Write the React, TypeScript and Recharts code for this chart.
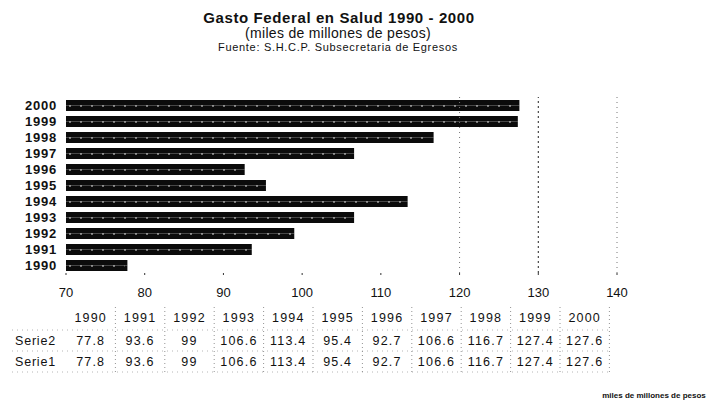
import React from 'react';
import { BarChart, Bar, XAxis, YAxis, ReferenceLine } from 'recharts';

const years = ['1990', '1991', '1992', '1993', '1994', '1995', '1996', '1997', '1998', '1999', '2000'];
const serie2 = [77.8, 93.6, 99, 106.6, 113.4, 95.4, 92.7, 106.6, 116.7, 127.4, 127.6];
const serie1 = [77.8, 93.6, 99, 106.6, 113.4, 95.4, 92.7, 106.6, 116.7, 127.4, 127.6];
const xTicks = [70, 80, 90, 100, 110, 120, 130, 140];
const gridValues = [120, 130, 140];

const data = years.map((y, i) => ({ year: y, Serie2: serie2[i], Serie1: serie1[i] }));

const FONT = '"Liberation Sans", Arial, sans-serif';
const INK = '#111';

const TABLE_LEFT = 66;
const COL_W = 49.4;
const ROW_Y = [318, 341, 362];

const fmt = (v: number) => (Number.isInteger(v) ? String(v) : v.toFixed(1));

const BarShape = (props: any) => {
  const { x, y, width, height, dashed } = props;
  if (!width || width <= 0) return null;
  return (
    <g>
      <rect x={x} y={y} width={width} height={height} fill="#0b0b0b" />
      {dashed ? (
        <line
          x1={x + 3}
          x2={x + width - 3}
          y1={y + 0.5}
          y2={y + 0.5}
          stroke="#fff"
          strokeWidth={1}
          strokeDasharray="2 9"
          opacity={0.85}
        />
      ) : null}
    </g>
  );
};

const Overlay = () => {
  const rows: { label: string; values: string[] }[] = [
    { label: '', values: years },
    { label: 'Serie2', values: serie2.map(fmt) },
    { label: 'Serie1', values: serie1.map(fmt) },
  ];
  const vLines = years.map((_, i) => TABLE_LEFT + COL_W * (i + 1));
  return (
    <svg width={719} height={414} style={{ position: 'absolute', left: 0, top: 0, pointerEvents: 'none' }}>
      <text x={339} y={17} textAnchor="middle" dominantBaseline="central" fontFamily={FONT} fontWeight="bold" fontSize={15} letterSpacing={0.6} fill={INK}>
        Gasto Federal en Salud 1990 - 2000
      </text>
      <text x={338} y={33} textAnchor="middle" dominantBaseline="central" fontFamily={FONT} fontSize={14} letterSpacing={0.3} fill={INK}>
        (miles de millones de pesos)
      </text>
      <text x={338} y={47} textAnchor="middle" dominantBaseline="central" fontFamily={FONT} fontSize={11} letterSpacing={0.7} fill={INK}>
        Fuente: S.H.C.P. Subsecretaria de Egresos
      </text>

      {vLines.map((x, i) => (
        <line key={'v' + i} x1={x} x2={x} y1={307} y2={372} stroke="#666" strokeWidth={1} strokeDasharray="1 3" opacity={0.7} />
      ))}
      {[330, 351, 372].map((y, i) => (
        <line key={'h' + i} x1={12} x2={TABLE_LEFT + COL_W * years.length} y1={y} y2={y} stroke="#888" strokeWidth={1} strokeDasharray="1 4" opacity={0.6} />
      ))}

      {rows.map((r, ri) => (
        <g key={'r' + ri}>
          {r.label ? (
            <text x={15} y={ROW_Y[ri]} dominantBaseline="central" fontFamily={FONT} fontSize={12.5} letterSpacing={0.8} fill={INK}>
              {r.label}
            </text>
          ) : null}
          {r.values.map((v, ci) => (
            <text
              key={ci}
              x={TABLE_LEFT + COL_W * (ci + 0.5)}
              y={ROW_Y[ri]}
              textAnchor="middle"
              dominantBaseline="central"
              fontFamily={FONT}
              fontSize={12.5}
              letterSpacing={1.2}
              fill={INK}
            >
              {v}
            </text>
          ))}
        </g>
      ))}

      <text x={654} y={395} textAnchor="middle" dominantBaseline="central" fontFamily={FONT} fontWeight="bold" fontSize={8} fill={INK}>
        miles de millones de pesos
      </text>
    </svg>
  );
};

export default function App() {
  return (
    <div style={{ position: 'absolute', left: 0, top: 0, width: 719, height: 414, background: '#fff' }}>
      <BarChart
        width={719}
        height={414}
        data={data}
        layout="vertical"
        margin={{ top: 97, right: 102, bottom: 111, left: 0 }}
        barGap={0}
      >
        <XAxis
          type="number"
          domain={[70, 140]}
          ticks={xTicks}
          interval={0}
          axisLine={false}
          tickLine={{ stroke: '#333' }}
          tickSize={2}
          tickMargin={13}
          height={30}
          tick={{ fontFamily: FONT, fontSize: 13, fill: INK }}
        />
        <YAxis
          type="category"
          dataKey="year"
          reversed
          width={66}
          axisLine={false}
          tickLine={false}
          tickSize={0}
          tickMargin={9}
          interval={0}
          tick={{ fontFamily: FONT, fontSize: 13, fontWeight: 'bold', letterSpacing: 0.8, fill: INK }}
        />
        {gridValues.map((g, i) => (
          <ReferenceLine
            key={g}
            x={g}
            stroke={i === 1 ? '#222' : '#777'}
            strokeWidth={1}
            strokeDasharray={i === 1 ? '2 3' : '1 4'}
          />
        ))}
        <Bar dataKey="Serie2" barSize={5.5} isAnimationActive={false} shape={(p: any) => <BarShape {...p} />} />
        <Bar dataKey="Serie1" barSize={5.5} isAnimationActive={false} shape={(p: any) => <BarShape {...p} dashed />} />
      </BarChart>
      <Overlay />
    </div>
  );
}
